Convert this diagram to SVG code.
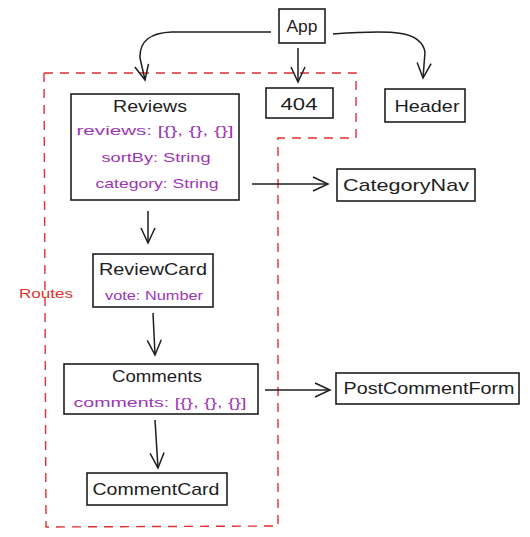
<svg xmlns="http://www.w3.org/2000/svg" width="530" height="537" viewBox="0 0 530 537">
<defs>
<style>
.box{fill:#fff;stroke:#1e1e1e;stroke-width:1.6}
.t{font-family:"Liberation Sans",Arial,sans-serif;font-size:17px;fill:#1e1e1e;text-anchor:middle}
.p{font-family:"Liberation Sans",Arial,sans-serif;font-size:13px;fill:#9c36b5;text-anchor:middle}
.r{font-family:"Liberation Sans",Arial,sans-serif;font-size:13px;fill:#e03131;text-anchor:middle}
.c{fill:none;stroke:#1e1e1e;stroke-width:1.5}
.zone{fill:none;stroke:#e03131;stroke-width:1.4;stroke-dasharray:9 7}
</style>
<marker id="ah" markerUnits="userSpaceOnUse" markerWidth="18" markerHeight="18" viewBox="0 0 18 18" refX="16" refY="9" orient="auto">
<path d="M1,2 L16,9 L1,16" fill="none" stroke="#1e1e1e" stroke-width="1.5"/>
</marker>
</defs>
<g id="routes">
<path class="zone" d="M44,73 L356,73 L356,138 L278,138 L278,526 L46,527 Z"/>
<text class="r" x="46" y="298" textLength="54" lengthAdjust="spacingAndGlyphs">Routes</text>
</g>
<g id="connectors">
<path class="c" d="M271,32 L172,32 Q139,33 140,58 L145,80" marker-end="url(#ah)"/>
<path class="c" d="M298,48 L298,82" marker-end="url(#ah)"/>
<path class="c" d="M333,34 C392,30 421,30 425,52 L423,78" marker-end="url(#ah)"/>
<path class="c" d="M148,211 L148,243" marker-end="url(#ah)"/>
<path class="c" d="M153,313 L155,355" marker-end="url(#ah)"/>
<path class="c" d="M155,420 L158,468" marker-end="url(#ah)"/>
<path class="c" d="M252,184 L328,184" marker-end="url(#ah)"/>
<path class="c" d="M265,390 L330,390" marker-end="url(#ah)"/>
</g>
<g id="app">
<rect class="box" x="279" y="9" width="46" height="34"/>
<text class="t" x="302" y="32" textLength="31" lengthAdjust="spacingAndGlyphs">App</text>
</g>
<g id="notfound">
<rect class="box" x="266" y="88" width="67" height="30"/>
<text class="t" x="299" y="110" textLength="37" lengthAdjust="spacingAndGlyphs">404</text>
</g>
<g id="header">
<rect class="box" x="385" y="89" width="80" height="33"/>
<text class="t" x="427" y="112" textLength="65" lengthAdjust="spacingAndGlyphs">Header</text>
</g>
<g id="reviews">
<rect class="box" x="71" y="94" width="168" height="106"/>
<text class="t" x="150" y="112" textLength="74" lengthAdjust="spacingAndGlyphs">Reviews</text>
<text class="p" x="155" y="135" textLength="157" lengthAdjust="spacingAndGlyphs">reviews: [{}, {}, {}]</text>
<text class="p" x="156" y="162" textLength="109" lengthAdjust="spacingAndGlyphs">sortBy: String</text>
<text class="p" x="157" y="188" textLength="123" lengthAdjust="spacingAndGlyphs">category: String</text>
</g>
<g id="categorynav">
<rect class="box" x="337" y="169" width="138" height="32"/>
<text class="t" x="406" y="191" textLength="126" lengthAdjust="spacingAndGlyphs">CategoryNav</text>
</g>
<g id="reviewcard">
<rect class="box" x="93" y="254" width="120" height="53"/>
<text class="t" x="153" y="275" textLength="108" lengthAdjust="spacingAndGlyphs">ReviewCard</text>
<text class="p" x="154" y="300" textLength="98" lengthAdjust="spacingAndGlyphs">vote: Number</text>
</g>
<g id="comments">
<rect class="box" x="64" y="364" width="194" height="50"/>
<text class="t" x="157" y="382" textLength="90" lengthAdjust="spacingAndGlyphs">Comments</text>
<text class="p" x="160" y="407" textLength="173" lengthAdjust="spacingAndGlyphs">comments: [{}, {}, {}]</text>
</g>
<g id="postcommentform">
<rect class="box" x="336" y="373" width="183" height="31"/>
<text class="t" x="429" y="394" textLength="171" lengthAdjust="spacingAndGlyphs">PostCommentForm</text>
</g>
<g id="commentcard">
<rect class="box" x="87" y="473" width="140" height="32"/>
<text class="t" x="156" y="495" textLength="127" lengthAdjust="spacingAndGlyphs">CommentCard</text>
</g>
</svg>
